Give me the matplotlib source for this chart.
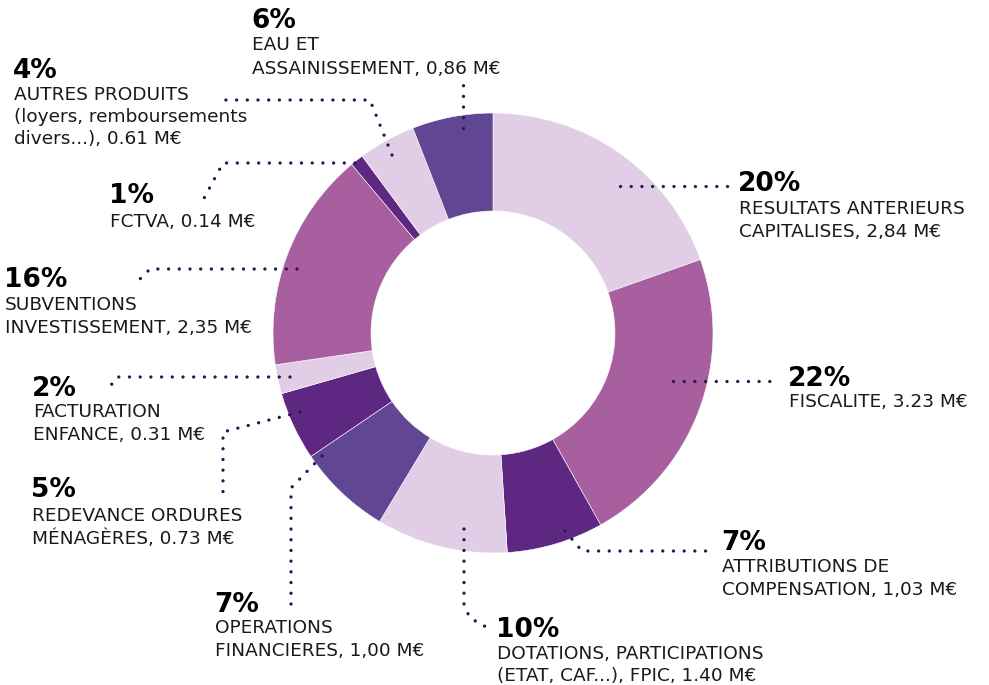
import matplotlib
matplotlib.use("Agg")
import matplotlib.pyplot as plt

# ---------------- data ----------------
categories = [
    "RESULTATS ANTERIEURS\nCAPITALISES, 2,84 M€",
    "FISCALITE, 3.23 M€",
    "ATTRIBUTIONS DE\nCOMPENSATION, 1,03 M€",
    "DOTATIONS, PARTICIPATIONS\n(ETAT, CAF...), FPIC, 1.40 M€",
    "OPERATIONS\nFINANCIERES, 1,00 M€",
    "REDEVANCE ORDURES\nMÉNAGÈRES, 0.73 M€",
    "FACTURATION\nENFANCE, 0.31 M€",
    "SUBVENTIONS\nINVESTISSEMENT, 2,35 M€",
    "FCTVA, 0.14 M€",
    "AUTRES PRODUITS\n(loyers, remboursements\ndivers...), 0.61 M€",
    "EAU ET\nASSAINISSEMENT, 0,86 M€",
]
values = [2.84, 3.23, 1.03, 1.40, 1.00, 0.73, 0.31, 2.35, 0.14, 0.61, 0.86]
percents = ["20%", "22%", "7%", "10%", "7%", "5%", "2%", "16%", "1%", "4%", "6%"]

LIGHT, MED, DARK, BLUE = "#e1cde6", "#a85f9f", "#5e2882", "#614793"
colors = [LIGHT, MED, DARK, LIGHT, BLUE, DARK, LIGHT, MED, DARK, LIGHT, BLUE]

# label layout (pixel coords, y from top): x, percent baseline, first text baseline, line step
label_pos = [
    (739, 191, 214, 22.5),
    (789, 386, 407, 22.5),
    (722, 550, 572, 23),
    (497, 637, 659, 22),
    (215, 612, 633, 23),
    (32, 497, 521, 22.5),
    (33, 396, 417, 23),
    (5, 287, 310, 23),
    (110, 203, 227, 23),
    (14, 78, 100, 22),
    (252, 28, 50, 24),
]
# leader polylines (pixel coords)
leaders = [
    [(620, 186), (730, 186)],
    [(673, 381), (780, 381)],
    [(565, 531), (582, 551), (711, 551)],
    [(464, 529), (464, 605), (470, 618), (488, 628)],
    [(322, 456), (291, 488), (291, 606)],
    [(300, 412), (223, 432), (223, 493)],
    [(290, 377), (117, 377), (106, 392)],
    [(297, 269), (150, 269), (134, 285)],
    [(355, 163), (223, 163), (202, 202)],
    [(392, 155), (370, 100), (219, 100)],
    [(463, 128), (463, 84)],
]

W, H = 989, 685

def P(x, y):
    return x, H - y

fig = plt.figure(figsize=(W / 100, H / 100), dpi=100)
ax = fig.add_axes([0, 0, 1, 1])
ax.pie(values, colors=colors, startangle=90, counterclock=False,
       radius=220, center=P(493, 333), frame=True,
       wedgeprops=dict(width=98, edgecolor="white", linewidth=0.4))
ax.set_xlim(0, W)
ax.set_ylim(0, H)
ax.set_aspect("equal")
ax.axis("off")

for pts in leaders:
    xs = [P(*p)[0] for p in pts]
    ys = [P(*p)[1] for p in pts]
    ax.plot(xs, ys, color="#2a1650", linewidth=2.4,
            linestyle=(0, (0.01, 3.2)), dash_capstyle="round",
            solid_capstyle="round", zorder=5)

for (x, pb, tb, step), pct, lab in zip(label_pos, percents, categories):
    ax.text(*P(x - 1, pb), pct, fontsize=19, fontweight="bold",
            family="DejaVu Sans", color="black", va="baseline", ha="left")
    for i, line in enumerate(lab.split("\n")):
        ax.text(*P(x, tb + i * step), line, fontsize=13.3,
                family="DejaVu Sans", color="#1a1a1a", va="baseline", ha="left")

fig.savefig("out.png", dpi=100, facecolor="white")
